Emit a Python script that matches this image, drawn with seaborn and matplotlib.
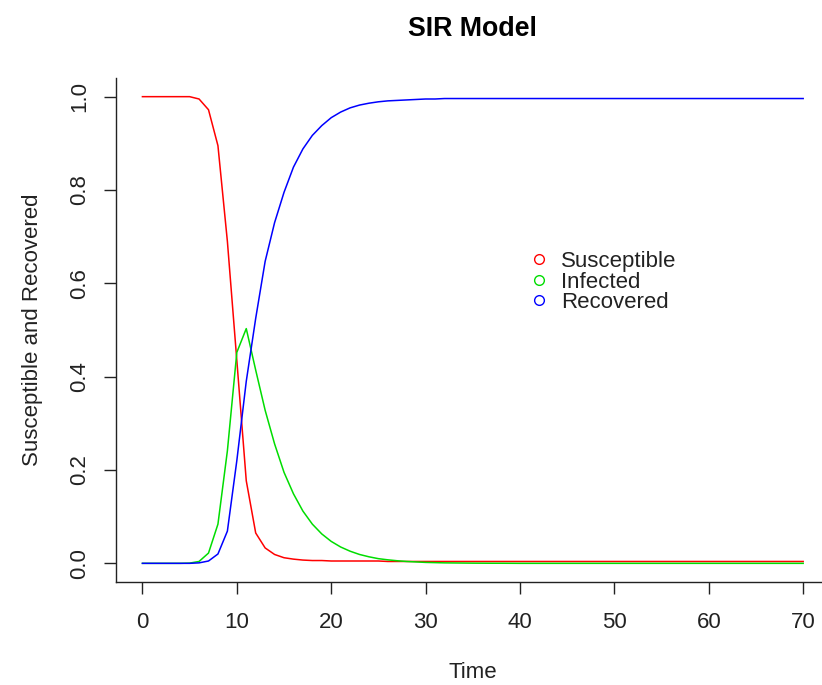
import numpy as np
import pandas as pd
import matplotlib
matplotlib.use("Agg")
import matplotlib.pyplot as plt
import seaborn as sns
from matplotlib.lines import Line2D

time = list(range(0, 71))

susceptible = [1.0, 1.0, 1.0, 1.0, 1.0, 1.0, 0.995, 0.972, 0.895, 0.69,
               0.435, 0.177, 0.065, 0.033, 0.019, 0.012, 0.009, 0.007, 0.006, 0.006,
               0.005, 0.005, 0.005, 0.005, 0.005, 0.005, 0.004, 0.004, 0.004, 0.004] + [0.004] * 41

infected = [0.0, 0.0, 0.0, 0.0, 0.0, 0.0005, 0.004, 0.022, 0.084, 0.241,
            0.452, 0.503, 0.414, 0.328, 0.256, 0.195, 0.149, 0.112, 0.084, 0.063,
            0.047, 0.035, 0.026, 0.019, 0.014, 0.010, 0.0075, 0.0055, 0.004, 0.003,
            0.002, 0.0015, 0.001, 0.0008, 0.0006, 0.0004, 0.0003, 0.0002, 0.0002, 0.0001] + [0.0] * 31

recovered = [0.0, 0.0, 0.0, 0.0, 0.0, 0.0, 0.001, 0.005, 0.02, 0.069,
             0.22, 0.39, 0.525, 0.647, 0.73, 0.795, 0.849, 0.888, 0.917, 0.938,
             0.955, 0.967, 0.976, 0.982, 0.986, 0.989, 0.991, 0.992, 0.993, 0.994,
             0.995, 0.995, 0.996, 0.996, 0.996, 0.996, 0.996] + [0.996] * 34

series_names = ["Susceptible", "Infected", "Recovered"]
colors = ["#FF0000", "#00DD00", "#0000FF"]

df = pd.concat([
    pd.DataFrame({"Time": time, "value": vals, "series": name})
    for name, vals in zip(series_names, [susceptible, infected, recovered])
], ignore_index=True)

plt.rcParams["font.family"] = ["Liberation Sans", "DejaVu Sans"]

W, H = 822, 685
FS = 16
fig = plt.figure(figsize=(W / 100, H / 100), dpi=100)
# axes box in pixels: left 116, right 829.6, top 78, bottom 582
ax = fig.add_axes([116 / W, 1 - 582 / H, (829.6 - 116) / W, (582 - 78) / H])

sns.lineplot(data=df, x="Time", y="value", hue="series", palette=dict(zip(series_names, colors)),
             hue_order=series_names, ax=ax, linewidth=1.1, legend=False, estimator=None)

ax.set_xlim(-2.8, 72.8)
ax.set_ylim(-0.04, 1.04)
ax.set_xticks([0, 10, 20, 30, 40, 50, 60, 70])
ax.set_yticks([0.0, 0.2, 0.4, 0.6, 0.8, 1.0])
ax.set_yticklabels(["0.0", "0.2", "0.4", "0.6", "0.8", "1.0"], rotation=90, va="center")
for s in ["top", "right"]:
    ax.spines[s].set_visible(False)
for s in ["left", "bottom"]:
    ax.spines[s].set_color("#222222")
    ax.spines[s].set_linewidth(1.0)
ax.tick_params(axis="both", direction="out", length=8.6, width=1.0, colors="#222222",
               labelsize=FS, labelcolor="#222222")
ax.tick_params(axis="x", pad=13)
ax.tick_params(axis="y", pad=10)
ax.set_xlabel("Time", fontsize=FS, color="#222222", labelpad=21)
ax.set_ylabel("Susceptible and Recovered", fontsize=FS, color="#222222", labelpad=19)
ax.set_title("SIR Model", fontsize=19.3, fontweight="bold", pad=30)

handles = [Line2D([], [], linestyle="none", marker="o", markerfacecolor="none",
                  markeredgecolor=c, markersize=7, markeredgewidth=1.0) for c in colors]
leg = ax.legend(handles, series_names, loc="center left", frameon=False,
                bbox_to_anchor=(528 / W, 1 - 282 / H), bbox_transform=fig.transFigure,
                fontsize=FS, handlelength=1.0, handletextpad=0.5, labelspacing=-0.02,
                borderpad=0, borderaxespad=0)
for t in leg.get_texts():
    t.set_color("#222222")

fig.savefig("out.png", dpi=100)
